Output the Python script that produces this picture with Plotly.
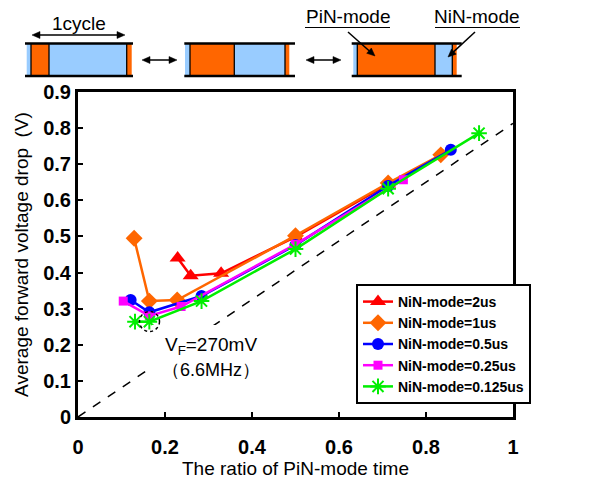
import math
import plotly.graph_objects as go

# ---------------- data ----------------
series_names = ["NiN-mode=2us", "NiN-mode=1us", "NiN-mode=0.5us",
                "NiN-mode=0.25us", "NiN-mode=0.125us"]

x_2us = [0.229, 0.259, 0.329, 0.500, 0.713]
y_2us = [0.440, 0.391, 0.398, 0.499, 0.645]

x_1us = [0.129, 0.164, 0.228, 0.500, 0.713, 0.834]
y_1us = [0.495, 0.321, 0.324, 0.502, 0.648, 0.726]

x_05us = [0.121, 0.164, 0.284, 0.500, 0.713, 0.857]
y_05us = [0.324, 0.290, 0.335, 0.476, 0.640, 0.740]

x_025us = [0.104, 0.164, 0.237, 0.500, 0.748]
y_025us = [0.321, 0.280, 0.306, 0.478, 0.657]

x_0125us = [0.131, 0.164, 0.284, 0.500, 0.713, 0.922]
y_0125us = [0.264, 0.264, 0.321, 0.465, 0.632, 0.786]

ref_x = [0, 1]
ref_y = [0, 0.813]

x_ticks = [0, 0.2, 0.4, 0.6, 0.8, 1]
y_ticks = [0, 0.1, 0.2, 0.3, 0.4, 0.5, 0.6, 0.7, 0.8, 0.9]

# ---------------- styling ----------------
FONT = "Liberation Sans, Arial, sans-serif"
ORANGE = "#FF6600"
LBLUE = "#99CCFF"

styles = [
    dict(color="#FF0000", symbol="triangle-up", size=14),
    dict(color=ORANGE, symbol="diamond", size=13),
    dict(color="#0000FF", symbol="circle", size=12),
    dict(color="#FF00FF", symbol="square", size=9),
    dict(color="#00EE00", symbol="asterisk-open", size=13),
]
xs = [x_2us, x_1us, x_05us, x_025us, x_0125us]
ys = [y_2us, y_1us, y_05us, y_025us, y_0125us]

fig = go.Figure()

fig.add_trace(go.Scatter(x=ref_x, y=ref_y, mode="lines",
                         line=dict(color="black", width=1.5, dash="dash"),
                         showlegend=False, hoverinfo="skip"))

for name, xv, yv, st in zip(series_names, xs, ys, styles):
    mk = dict(color=st["color"], symbol=st["symbol"], size=st["size"])
    if st["symbol"] == "asterisk-open":
        mk["line"] = dict(color=st["color"], width=2)
    fig.add_trace(go.Scatter(x=xv, y=yv, mode="lines+markers", name=name,
                             line=dict(color=st["color"], width=2.5),
                             marker=mk))

# plot area in pixels
PL, PR, PT, PB = 78, 513, 92, 417
W, H = 604, 484


def px(x):
    return (x - PL) / (PR - PL)


def py(y):
    return (PB - y) / (PB - PT)


shapes = []
annotations = []


def bar(x0, x1, y0, y1, segs, dividers):
    for s0, s1, c in segs:
        shapes.append(dict(type="rect", xref="paper", yref="paper",
                           x0=px(s0), x1=px(s1), y0=py(y1), y1=py(y0),
                           fillcolor=c, line=dict(width=0), layer="above"))
    for d in dividers:
        shapes.append(dict(type="line", xref="paper", yref="paper",
                           x0=px(d), x1=px(d), y0=py(y1), y1=py(y0),
                           line=dict(color="black", width=1.3)))
    for yy in (y0, y1):
        shapes.append(dict(type="line", xref="paper", yref="paper",
                           x0=px(x0), x1=px(x1), y0=py(yy), y1=py(yy),
                           line=dict(color="black", width=2.5)))


bar(25, 133, 43.5, 76,
    [(26.7, 31, LBLUE), (31, 49, ORANGE), (49, 126.7, LBLUE), (126.7, 131.7, ORANGE)],
    [31, 49, 126.7])
bar(184.3, 295, 43.5, 76,
    [(185, 190, LBLUE), (190, 234.3, ORANGE), (234.3, 285, LBLUE), (285, 289.3, ORANGE)],
    [190, 234.3, 285])
bar(351.7, 461.7, 43.5, 76,
    [(353.3, 357.3, LBLUE), (357.3, 435, ORANGE), (435, 452.3, LBLUE), (452.3, 456.7, ORANGE)],
    [357.3, 435, 452.3])

# underlines
for u0, u1 in [(305, 390), (435, 520)]:
    shapes.append(dict(type="line", xref="paper", yref="paper",
                       x0=px(u0), x1=px(u1), y0=py(27.5), y1=py(27.5),
                       line=dict(color="black", width=1.2)))


def head(tx, ty, dx, dy, L=8.0, Wd=3.5):
    bx, by = tx - L * dx, ty - L * dy
    nx, ny = -dy, dx
    pts = [(tx, ty), (bx + Wd * nx, by + Wd * ny), (bx - Wd * nx, by - Wd * ny)]
    path = "M " + " L ".join(f"{px(a):.5f},{py(b):.5f}" for a, b in pts) + " Z"
    shapes.append(dict(type="path", xref="paper", yref="paper", path=path,
                       fillcolor="black", line=dict(color="black", width=0.5)))


def arrow(x0, y0, x1, y1, both=False):
    Lt = math.hypot(x1 - x0, y1 - y0)
    dx, dy = (x1 - x0) / Lt, (y1 - y0) / Lt
    sx0, sy0 = (x0 + 6 * dx, y0 + 6 * dy) if both else (x0, y0)
    sx1, sy1 = x1 - 6 * dx, y1 - 6 * dy
    shapes.append(dict(type="line", xref="paper", yref="paper",
                       x0=px(sx0), y0=py(sy0), x1=px(sx1), y1=py(sy1),
                       line=dict(color="black", width=1.5)))
    head(x1, y1, dx, dy)
    if both:
        head(x0, y0, -dx, -dy)


arrow(32, 35, 125, 35, both=True)
arrow(142, 60, 177, 60, both=True)
arrow(306, 60, 341, 60, both=True)
arrow(348, 32, 375, 56)
arrow(475, 32, 448, 57)

for txt, cx, cy, sz in [("1cycle", 79, 24, 19), ("PiN-mode", 348, 17, 19),
                        ("NiN-mode", 477, 17, 19)]:
    annotations.append(dict(xref="paper", yref="paper", x=px(cx), y=py(cy),
                            text=txt, showarrow=False, xanchor="center",
                            yanchor="middle",
                            font=dict(family=FONT, size=sz, color="black")))

# white patch behind the V_F label (hides the dashed line there)
shapes.append(dict(type="rect", xref="paper", yref="paper",
                   x0=px(152), x1=px(272), y0=py(382), y1=py(325),
                   fillcolor="white", line=dict(width=0), layer="above"))

annotations.append(dict(xref="paper", yref="paper", x=px(211), y=py(357),
                        text="V<sub>F</sub>=270mV<br>"
                             "<span style='font-size:18px'>（6.6MHz）</span>",
                        showarrow=False, align="center",
                        xanchor="center", yanchor="middle",
                        font=dict(family=FONT, size=19, color="black")))

# dotted circle around 270 mV point
shapes.append(dict(type="circle", xref="paper", yref="paper",
                   x0=px(139.5), x1=px(159.5), y0=py(331.5), y1=py(311.5),
                   line=dict(color="black", width=1.5, dash="dot"),
                   layer="above"))

fig.update_layout(
    width=W, height=H,
    margin=dict(l=PL, r=W - PR, t=PT, b=H - PB, autoexpand=False),
    paper_bgcolor="white", plot_bgcolor="white",
    font=dict(family=FONT, color="black"),
    shapes=shapes, annotations=annotations,
    showlegend=True,
    legend=dict(x=px(356), y=py(284), xanchor="left", yanchor="top",
                bgcolor="white", bordercolor="black", borderwidth=2,
                font=dict(family=FONT, size=14, color="black", weight="bold"),
                itemwidth=30, tracegroupgap=0),
)

fig.update_xaxes(range=[0, 1], tickvals=x_ticks,
                 ticktext=[f"{v:g}" for v in x_ticks],
                 automargin=False,
                 showgrid=False, zeroline=False,
                 showline=True, linecolor="black", linewidth=3, mirror=True,
                 ticks="inside", ticklen=5, tickwidth=1.5, tickcolor="black",
                 ticklabelstandoff=10,
                 tickfont=dict(family=FONT, size=20, color="black", weight="bold"),
                 title=dict(text="The ratio of PiN-mode time",
                            font=dict(family=FONT, size=19, color="black"),
                            standoff=3))
fig.update_yaxes(range=[0, 0.9], tickvals=y_ticks,
                 ticktext=[f"{v:g}" for v in y_ticks],
                 automargin=False,
                 showgrid=False, zeroline=False,
                 showline=True, linecolor="black", linewidth=3, mirror=True,
                 ticks="inside", ticklen=5, tickwidth=1.5, tickcolor="black",
                 ticklabelstandoff=0,
                 tickfont=dict(family=FONT, size=20, color="black", weight="bold"),
                 title=dict(text="Average forward voltage drop  (V)",
                            font=dict(family=FONT, size=19, color="black"),
                            standoff=10))

fig.write_html("out.html",
               config={"displayModeBar": False},
               post_script="document.body.style.margin='0';"
                           "document.body.style.padding='0';")
